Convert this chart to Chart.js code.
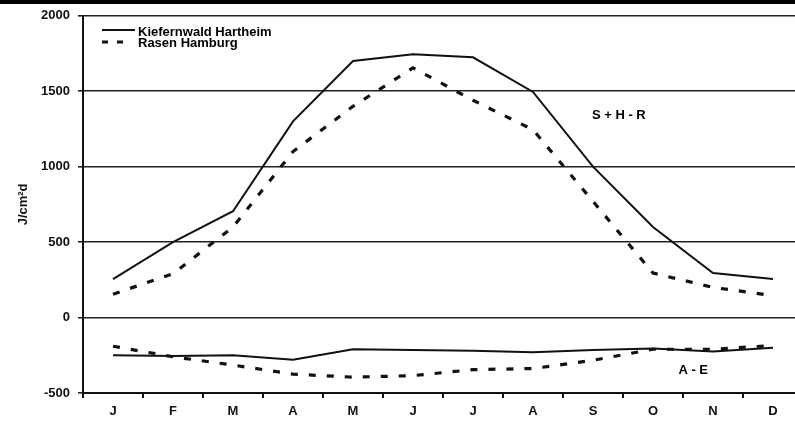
<!DOCTYPE html>
<html>
<head>
<meta charset="utf-8">
<script src="https://cdn.jsdelivr.net/npm/chart.js@4/dist/chart.umd.min.js"></script>
<style>
  html, body { margin: 0; padding: 0; background: #fff; overflow: hidden; }
  #wrap { width: 795px; height: 422px; overflow: hidden; position: relative; }
  #chart { position: absolute; left: 0; top: 0; }
</style>
</head>
<body>
<div id="wrap"><canvas id="chart" width="810" height="422"></canvas></div>
<script>
const months = ['J', 'F', 'M', 'A', 'M', 'J', 'J', 'A', 'S', 'O', 'N', 'D'];

// S + H - R (net radiation plus heat terms), J/cm²d
const hartheimUpper = [255, 500, 705, 1300, 1700, 1745, 1725, 1495, 1000, 600, 295, 255];
const hamburgUpper = [155, 290, 600, 1100, 1400, 1655, 1440, 1245, 770, 295, 200, 145];

// A - E
const hartheimLower = [-250, -255, -250, -280, -210, -215, -220, -230, -215, -205, -225, -200];
const hamburgLower = [-190, -260, -315, -375, -395, -385, -345, -338, -283, -210, -210, -185];

const yTicks = [-500, 0, 500, 1000, 1500, 2000];

const font = { family: 'Liberation Sans, Arial, sans-serif', weight: 'bold', size: 13 };
const ink = '#111';

function solid(label, values) {
    return {
        label: label,
        data: values,
        borderColor: ink,
        borderWidth: 2,
        pointRadius: 0,
        tension: 0,
        fill: false
    };
}

function dashed(label, values) {
    return {
        label: label,
        data: values,
        borderColor: ink,
        borderWidth: 3.2,
        borderDash: [7, 11],
        pointRadius: 0,
        tension: 0,
        fill: false
    };
}

// legend, region labels and the black rule at the top edge
const decor = {
    id: 'decor',
    afterDraw(chart) {
        const ctx = chart.ctx;
        const x = chart.scales.x;
        const y = chart.scales.y;
        ctx.save();
        ctx.fillStyle = '#000';
        ctx.fillRect(0, 0, chart.width, 4);

        ctx.font = 'bold 13px "Liberation Sans", Arial, sans-serif';
        ctx.textBaseline = 'alphabetic';
        ctx.textAlign = 'left';
        ctx.strokeStyle = ink;

        ctx.lineWidth = 2;
        ctx.beginPath();
        ctx.moveTo(102, 30);
        ctx.lineTo(135, 30);
        ctx.stroke();
        ctx.fillText('Kiefernwald Hartheim', 138, 36);

        ctx.lineWidth = 3;
        ctx.beginPath();
        ctx.moveTo(102, 42);
        ctx.lineTo(108, 42);
        ctx.moveTo(117, 42);
        ctx.lineTo(123, 42);
        ctx.stroke();
        ctx.fillText('Rasen Hamburg', 138, 47);

        ctx.textAlign = 'center';
        ctx.textBaseline = 'middle';
        ctx.fillText('S + H - R', x.getPixelForValue(8.43), y.getPixelForValue(1340));
        ctx.fillText('A - E', x.getPixelForValue(9.67), y.getPixelForValue(-350));
        ctx.restore();
    }
};

const config = {
    type: 'line',
    data: {
        labels: months,
        datasets: [
            solid('Kiefernwald Hartheim', hartheimUpper),
            dashed('Rasen Hamburg', hamburgUpper),
            solid('Kiefernwald Hartheim A - E', hartheimLower),
            dashed('Rasen Hamburg A - E', hamburgLower)
        ]
    },
    options: {
        responsive: false,
        animation: false,
        layout: { padding: { top: 13, right: 7, left: 0, bottom: 0 } },
        plugins: {
            legend: { display: false },
            tooltip: { enabled: false }
        },
        scales: {
            x: {
                offset: true,
                grid: {
                    offset: true,
                    drawOnChartArea: false,
                    color: ink,
                    lineWidth: 2,
                    tickLength: 5
                },
                border: { color: ink, width: 2 },
                ticks: { color: ink, font: font, padding: 6, maxRotation: 0 },
                afterFit(scale) { scale.height = 29; }
            },
            y: {
                min: -500,
                max: 2000,
                afterBuildTicks(scale) {
                    scale.ticks = yTicks.map(v => ({ value: v }));
                },
                grid: {
                    color: '#222',
                    lineWidth: 1.6,
                    tickLength: 5
                },
                border: { color: ink, width: 2 },
                ticks: { color: ink, font: font, padding: 8, callback: v => String(v) },
                title: {
                    display: true,
                    text: 'J/cm²d',
                    color: ink,
                    font: { family: 'Liberation Sans, Arial, sans-serif', weight: 'bold', size: 13 },
                    padding: { top: 16, bottom: 0 }
                },
                afterFit(scale) { scale.width = 83; }
            }
        }
    },
    plugins: [decor]
};

new Chart(document.getElementById('chart'), config);
</script>
</body>
</html>
